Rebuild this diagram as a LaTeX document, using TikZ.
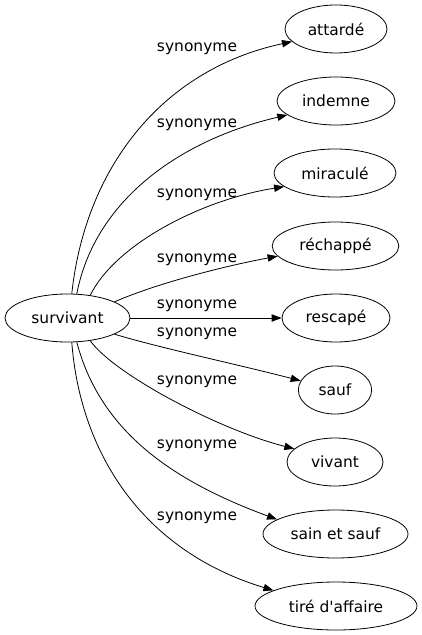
\documentclass[tikz,border=0pt]{standalone}
\usepackage{fontspec}
\setmainfont{DejaVu Sans}
\usetikzlibrary{arrows.meta,shapes.geometric}
\newcommand{\straightquote}{\XeTeXglyph\XeTeXcharglyph"0027\relax}
\begin{document}
\begin{tikzpicture}[x=0.75pt,y=-0.75pt,
  every node/.style={font=\fontsize{11.6pt}{13pt}\selectfont},
  word/.style={draw,ellipse,line width=0.6pt,minimum height=36pt,inner sep=0pt},
  rel/.style={draw,line width=0.6pt,-{Triangle[length=7.5pt,width=5.5pt]}},
  lab/.style={inner sep=0pt,fill=none}]
\useasboundingbox (0,0) rectangle (421,635);
\node[word,minimum width=93.75pt] (surv) at (67.5,318) {survivant};
\node[word,minimum width=76.5pt] (att) at (336,29) {attardé};
\node[word,minimum width=88.5pt] (ind) at (336,101) {indemne};
\node[word,minimum width=91.5pt] (mir) at (335,173) {miraculé};
\node[word,minimum width=95pt] (rec) at (335.5,246) {réchappé};
\node[word,minimum width=81pt] (res) at (336,318) {rescapé};
\node[word,minimum width=55pt] (sauf) at (335,390) {sauf};
\node[word,minimum width=72pt] (viv) at (335,462) {vivant};
\node[word,minimum width=108.75pt] (sain) at (335.5,534) {sain et sauf};
\node[word,minimum width=121.5pt] (tire) at (336,606) {tiré d\straightquote affaire};
\path[rel] (surv.80) .. controls (85,170) and (160,70) .. (att.196);
\path[rel] (surv.69) .. controls (95,200) and (180,140) .. (ind.196);
\path[rel] (surv.45) .. controls (115,245) and (200,200) .. (mir.195);
\path[rel] (surv.19) .. controls (160,282) and (230,265) .. (rec.190);
\path[rel] (surv.0) -- (res.180);
\path[rel] (surv.-19) .. controls (160,348) and (240,365) .. (sauf.165);
\path[rel] (surv.-45) .. controls (115,375) and (220,430) .. (viv.162);
\path[rel] (surv.-69) .. controls (100,430) and (170,480) .. (sain.166);
\path[rel] (surv.-80) .. controls (80,450) and (140,550) .. (tire.166);
\node[lab] (l1) at (197,49) {synonyme};
\node[lab] (l2) at (197,125) {synonyme};
\node[lab] (l3) at (197,195) {synonyme};
\node[lab] (l4) at (197,260) {synonyme};
\node[lab] (l5) at (197,306) {synonyme};
\node[lab] (l6) at (197,334) {synonyme};
\node[lab] (l7) at (197,382) {synonyme};
\node[lab] (l8) at (197,446) {synonyme};
\node[lab] (l9) at (197,518) {synonyme};
\end{tikzpicture}
\end{document}
